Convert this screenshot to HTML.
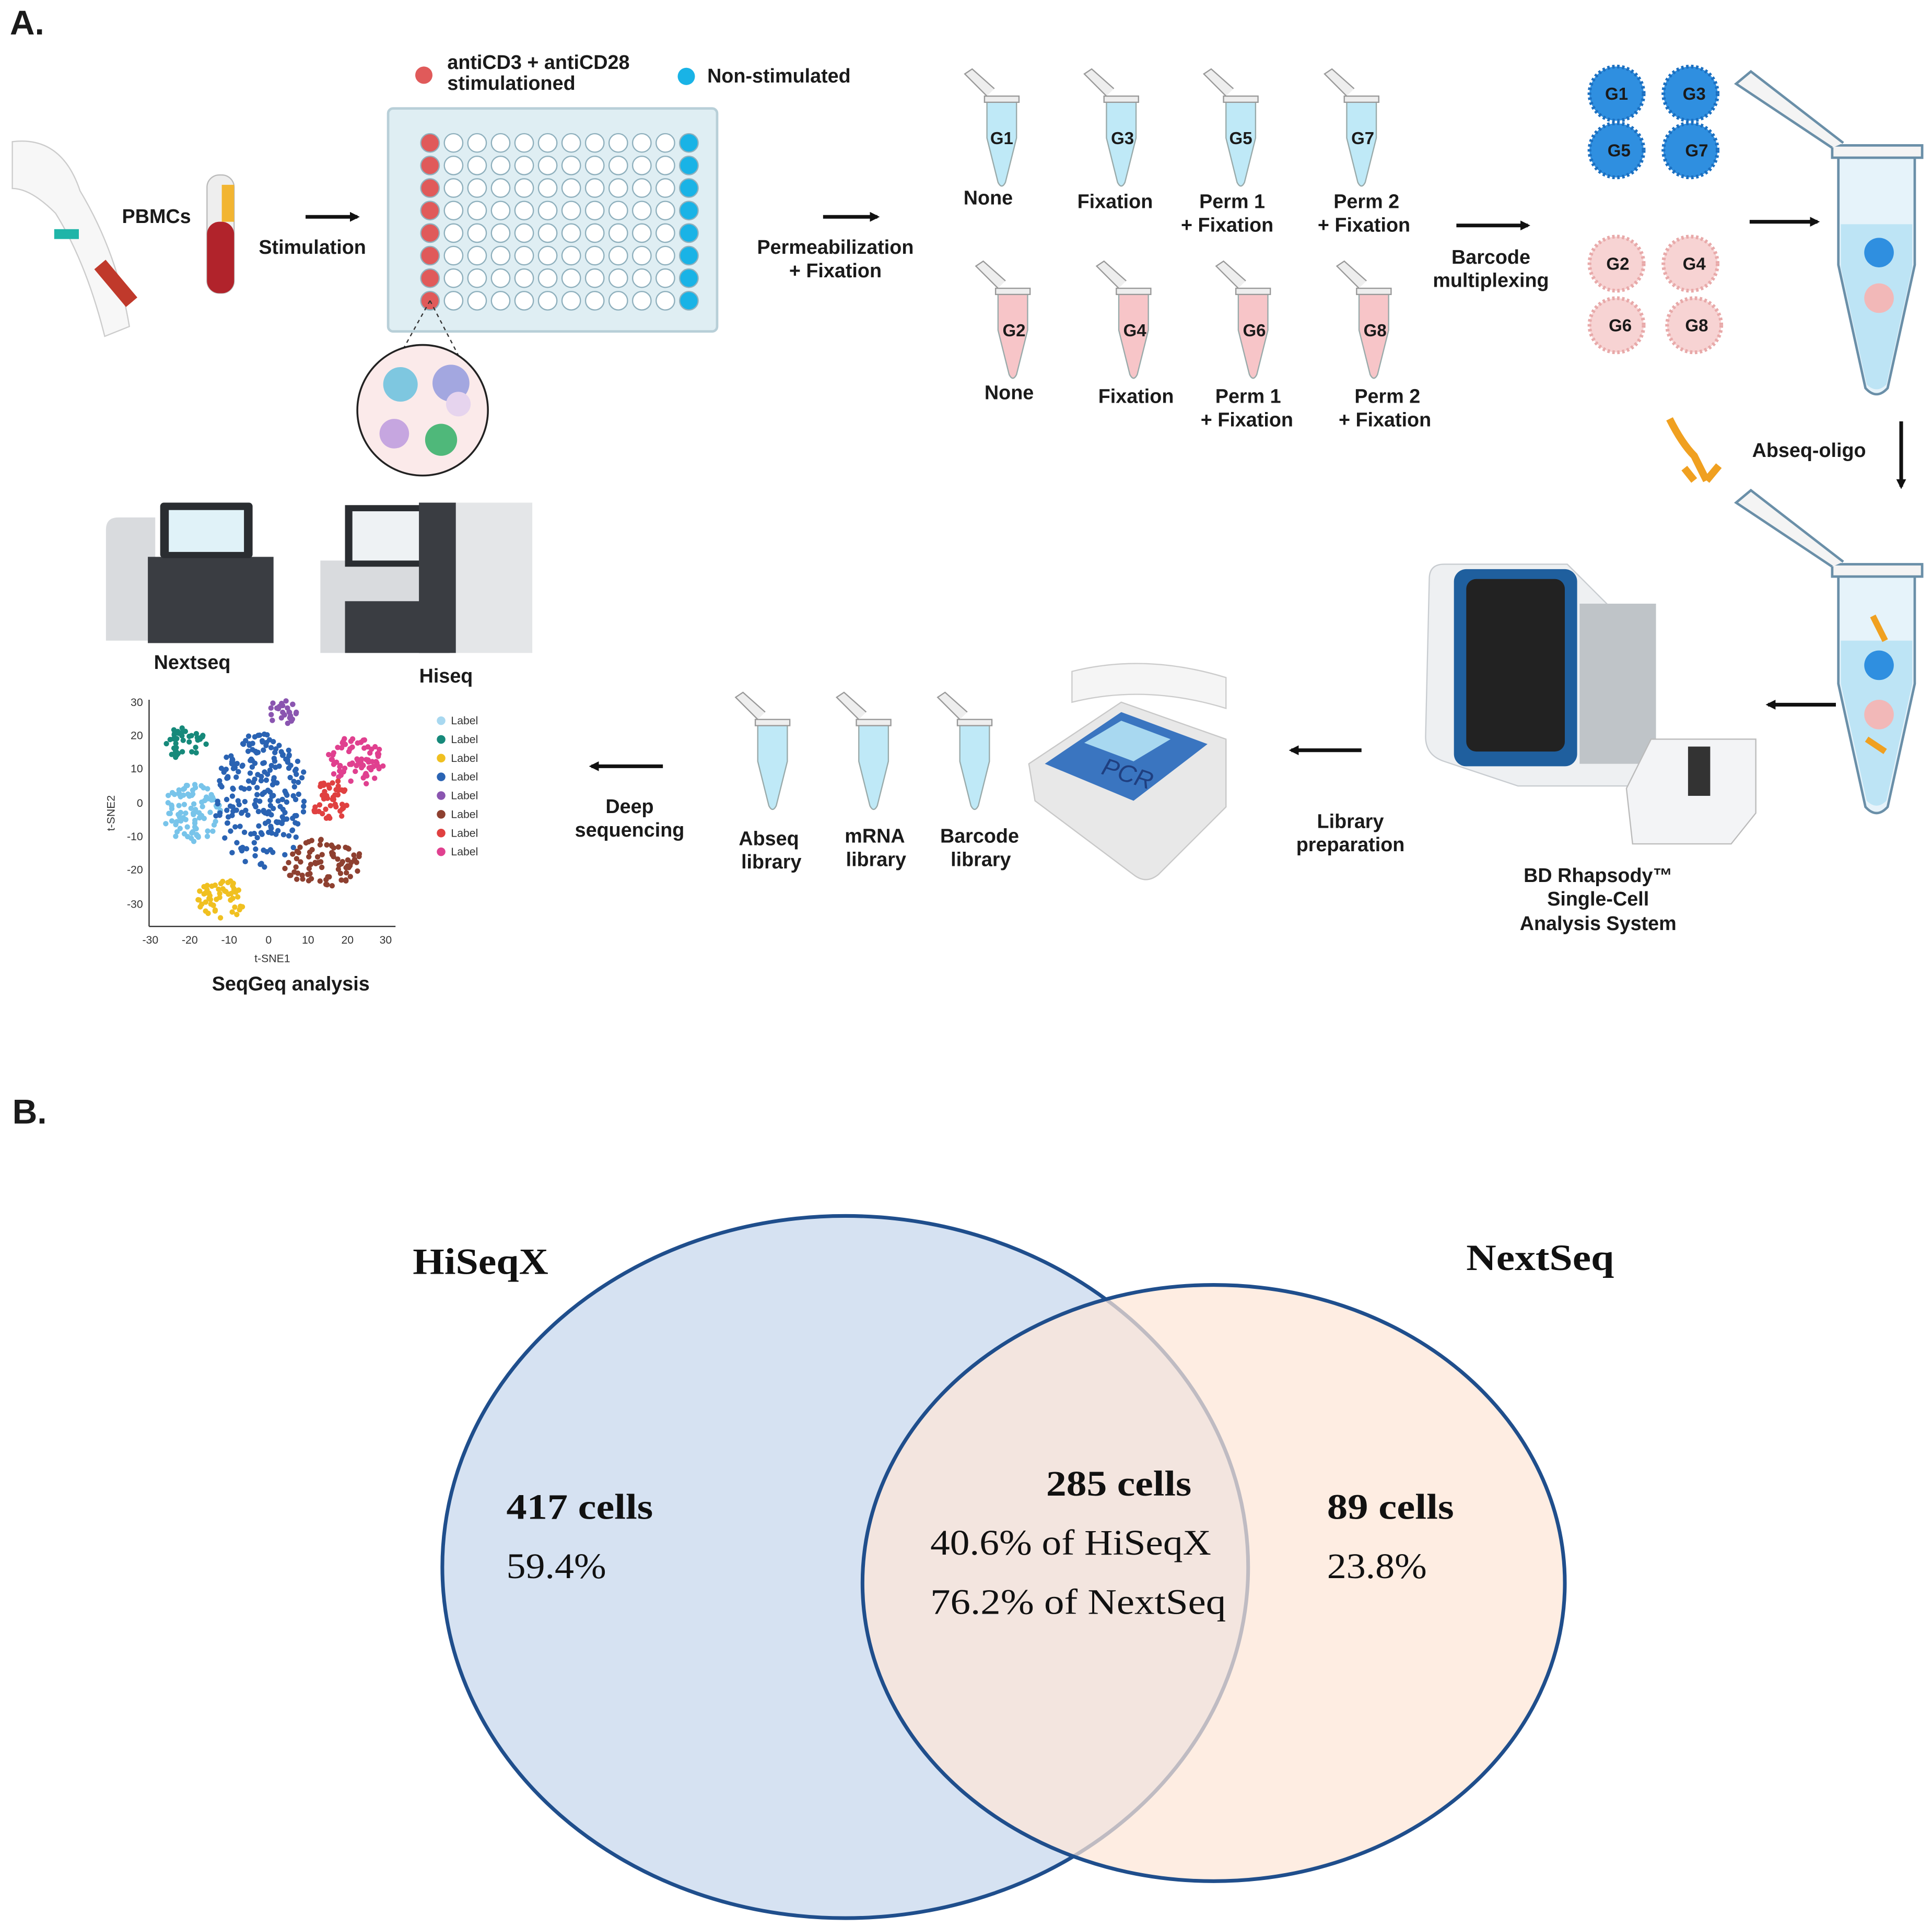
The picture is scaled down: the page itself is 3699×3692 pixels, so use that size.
<!DOCTYPE html>
<html><head><meta charset="utf-8">
<style>
html,body{margin:0;padding:0;background:#fff;}
svg{display:block;}
.s{font-family:"Liberation Sans",Arial,sans-serif;font-weight:bold;fill:#1a1a1a;}
.r{font-family:"Liberation Serif","Times New Roman",serif;fill:#111;}
</style></head><body>
<svg id="sv" width="3699" height="3692" viewBox="0 0 1568 1565" xmlns="http://www.w3.org/2000/svg">
<defs>
<marker id="ah" markerWidth="8" markerHeight="8" refX="6" refY="4" orient="auto" markerUnits="userSpaceOnUse">
<path d="M0,0 L8,4 L0,8 z" fill="#111"/></marker>
<g id="tb"><path d="M-12,0 h24 v30 l-9,36 q-3,6 -6,0 l-9,-36 z" stroke="#9aa" stroke-width="1" /><rect x="-14" y="-4" width="28" height="5" fill="#eee" stroke="#999"/><path d="M-12,-4 l-18,-18 l6,-4 l18,16" fill="#eee" stroke="#999"/></g>
</defs>
<rect width="1568" height="1565" fill="#fff"/>
<text x="8" y="28" class="s" font-size="28">A.</text>
<text x="10" y="912" class="s" font-size="28">B.</text>

<path d="M10,115 q40,-5 55,40 q30,50 40,110 l-20,8 q-15,-60 -40,-100 q-20,-20 -35,-20 z" fill="#f7f7f7" stroke="#ccc"/>
<rect x="88" y="210" width="12" height="40" fill="#c0392b" transform="rotate(-40 94 230)"/>
<rect x="44" y="186" width="20" height="8" fill="#1fb5a8"/>
<rect x="168" y="142" width="22" height="96" rx="10" fill="#eee" stroke="#bbb"/>
<rect x="168" y="180" width="22" height="58" rx="10" fill="#b1232b"/>
<rect x="180" y="150" width="10" height="30" fill="#f2b531"/>
<text x="99" y="181" class="s" font-size="16">PBMCs</text>
<text x="210" y="206" class="s" font-size="16">Stimulation</text>
<line x1="248" y1="176" x2="290" y2="176" stroke="#111" stroke-width="3" marker-end="url(#ah)"/>

<circle cx="344" cy="61" r="7" fill="#e05a5a"/>
<text x="363" y="56" class="s" font-size="16">antiCD3 + antiCD28</text>
<text x="363" y="73" class="s" font-size="16">stimulationed</text>
<circle cx="557" cy="62" r="7" fill="#19b3e6"/>
<text x="574" y="67" class="s" font-size="16">Non-stimulated</text>
<rect x="315" y="88" width="267" height="181" rx="4" fill="#dfeef3" stroke="#b8cfd8" stroke-width="2"/>
<g id="wells"></g>
<line x1="349" y1="244" x2="318" y2="300" stroke="#333" stroke-dasharray="3,3"/>
<line x1="349" y1="244" x2="378" y2="300" stroke="#333" stroke-dasharray="3,3"/>
<circle cx="343" cy="333" r="53" fill="#fbeaea" stroke="#222" stroke-width="1.5"/>
<circle cx="325" cy="312" r="14" fill="#7ec7e0"/><circle cx="366" cy="311" r="15" fill="#a3a7e0"/>
<circle cx="320" cy="352" r="12" fill="#c6a6e0"/><circle cx="358" cy="357" r="13" fill="#4fb87a"/><circle cx="372" cy="328" r="10" fill="#e6d4ee"/>

<text x="678" y="206" class="s" font-size="16" text-anchor="middle">Permeabilization</text>
<text x="678" y="225" class="s" font-size="16" text-anchor="middle">+ Fixation</text>
<line x1="668" y1="176" x2="712" y2="176" stroke="#111" stroke-width="3" marker-end="url(#ah)"/>

<g fill="#bfe9f7"><use href="#tb" x="813" y="82"/><use href="#tb" x="910" y="82"/><use href="#tb" x="1007" y="82"/><use href="#tb" x="1105" y="82"/></g>
<g fill="#f7c5c8"><use href="#tb" x="822" y="238"/><use href="#tb" x="920" y="238"/><use href="#tb" x="1017" y="238"/><use href="#tb" x="1115" y="238"/></g>
<g class="s" font-size="14" text-anchor="middle"><text x="813" y="117">G1</text><text x="911" y="117">G3</text><text x="1007" y="117">G5</text><text x="1106" y="117">G7</text>
<text x="823" y="273">G2</text><text x="921" y="273">G4</text><text x="1018" y="273">G6</text><text x="1116" y="273">G8</text></g>
<g class="s" font-size="16" text-anchor="middle">
<text x="802" y="166">None</text><text x="905" y="169">Fixation</text><text x="1000" y="169">Perm 1</text><text x="996" y="188">+ Fixation</text>
<text x="1109" y="169">Perm 2</text><text x="1107" y="188">+ Fixation</text>
<text x="819" y="324">None</text><text x="922" y="327">Fixation</text><text x="1013" y="327">Perm 1</text><text x="1012" y="346">+ Fixation</text>
<text x="1126" y="327">Perm 2</text><text x="1124" y="346">+ Fixation</text>
<text x="1210" y="214">Barcode</text><text x="1210" y="233">multiplexing</text>
</g>
<line x1="1182" y1="183" x2="1240" y2="183" stroke="#111" stroke-width="3" marker-end="url(#ah)"/>

<g fill="#2f8fe0" stroke="#1b6fc0" stroke-dasharray="2,2" stroke-width="3"><circle cx="1312" cy="76" r="22"/><circle cx="1372" cy="76" r="22"/><circle cx="1312" cy="122" r="22"/><circle cx="1372" cy="122" r="22"/></g>
<g fill="#f7d3d3" stroke="#e8a9a9" stroke-dasharray="2,2" stroke-width="3"><circle cx="1312" cy="214" r="22"/><circle cx="1372" cy="214" r="22"/><circle cx="1312" cy="264" r="22"/><circle cx="1375" cy="264" r="22"/></g>
<g class="s" font-size="14" text-anchor="middle"><text x="1312" y="81">G1</text><text x="1375" y="81">G3</text><text x="1314" y="127">G5</text><text x="1377" y="127">G7</text>
<text x="1313" y="219">G2</text><text x="1375" y="219">G4</text><text x="1315" y="269">G6</text><text x="1377" y="269">G8</text></g>
<line x1="1420" y1="180" x2="1475" y2="180" stroke="#111" stroke-width="3" marker-end="url(#ah)"/>

<g stroke="#6a8fa8" stroke-width="2">
<path d="M1492,125 h62 v90 l-22,100 q-9,10 -18,0 l-22,-100 z" fill="#e6f3fa"/>
<path d="M1494,182 h58 v35 l-21,95 q-8,8 -16,0 l-21,-95 z" fill="#bde4f5" stroke="none"/>
<rect x="1487" y="118" width="73" height="10" fill="#f4f4f4"/>
<path d="M1487,120 l-78,-52 l12,-10 l75,58" fill="#f4f4f4"/>
<path d="M1492,465 h62 v90 l-22,100 q-9,10 -18,0 l-22,-100 z" fill="#e6f3fa"/>
<path d="M1494,520 h58 v35 l-21,95 q-8,8 -16,0 l-21,-95 z" fill="#bde4f5" stroke="none"/>
<rect x="1487" y="458" width="73" height="10" fill="#f4f4f4"/>
<path d="M1487,460 l-78,-52 l12,-10 l75,58" fill="#f4f4f4"/>
</g>
<circle cx="1525" cy="205" r="12" fill="#2f8fe0"/><circle cx="1525" cy="242" r="12" fill="#f2b8b8"/>
<circle cx="1525" cy="540" r="12" fill="#2f8fe0"/><circle cx="1525" cy="580" r="12" fill="#f2b8b8"/>
<path d="M1520,500 l10,20 M1515,600 l15,10" stroke="#f0a020" stroke-width="5"/>
<line x1="1543" y1="342" x2="1543" y2="395" stroke="#111" stroke-width="3" marker-end="url(#ah)"/>
<path d="M1355,340 q10,20 20,30 l10,20 M1375,390 l-8,-10 M1385,390 l10,-12" stroke="#f0a020" stroke-width="6" fill="none"/>
<text x="1422" y="371" class="s" font-size="16">Abseq-oligo</text>
<line x1="1490" y1="572" x2="1435" y2="572" stroke="#111" stroke-width="3" marker-end="url(#ah)"/>

<path d="M1160,470 q0,-12 12,-12 h100 l60,60 v120 h-100 l-60,-20 q-15,-5 -15,-20 z" fill="#eef0f2" stroke="#c8ccd0"/>
<rect x="1180" y="462" width="100" height="160" rx="10" fill="#1f5f9e"/>
<rect x="1190" y="470" width="80" height="140" rx="8" fill="#222"/>
<rect x="1282" y="490" width="62" height="130" fill="#bfc4c8"/>
<path d="M1320,640 l20,-40 h85 v60 l-20,25 h-80 z" fill="#f3f4f6" stroke="#bbb"/>
<rect x="1370" y="606" width="18" height="40" fill="#333"/>
<g class="s" font-size="16" text-anchor="middle"><text x="1297" y="716">BD Rhapsody™</text><text x="1297" y="735">Single-Cell</text><text x="1297" y="755">Analysis System</text>
<text x="1096" y="672">Library</text><text x="1096" y="691">preparation</text></g>
<line x1="1105" y1="609" x2="1048" y2="609" stroke="#111" stroke-width="3" marker-end="url(#ah)"/>

<path d="M835,620 l75,-50 l85,30 v55 l-55,55 q-10,8 -20,0 l-80,-60 z" fill="#e8e8e8" stroke="#c8c8c8"/>
<path d="M870,545 q60,-15 125,5 v25 q-65,-20 -125,-5 z" fill="#f5f5f5" stroke="#ccc"/>
<path d="M848,620 l62,-42 l70,26 l-60,46 z" fill="#3a75c0"/>
<path d="M880,603 l30,-18 l40,15 l-30,18 z" fill="#a8d8f0"/>
<text x="893" y="628" font-family="Liberation Sans,sans-serif" font-style="italic" font-size="20" fill="#1f3f80" transform="rotate(18 893 628)">PCR</text>

<g fill="#bfe9f7"><use href="#tb" x="627" y="588"/><use href="#tb" x="709" y="588"/><use href="#tb" x="791" y="588"/></g>
<g class="s" font-size="16" text-anchor="middle"><text x="624" y="686">Abseq</text><text x="626" y="705">library</text>
<text x="710" y="684">mRNA</text><text x="711" y="703">library</text><text x="795" y="684">Barcode</text><text x="796" y="703">library</text>
<text x="511" y="660">Deep</text><text x="511" y="679">sequencing</text></g>
<line x1="538" y1="622" x2="480" y2="622" stroke="#111" stroke-width="3" marker-end="url(#ah)"/>

<path d="M86,430 q0,-10 10,-10 h30 v100 h-40 z" fill="#d9dbde"/>
<rect x="120" y="452" width="102" height="70" fill="#3a3d42"/>
<rect x="130" y="408" width="75" height="45" rx="3" fill="#2a2d31"/><rect x="137" y="414" width="61" height="34" fill="#e0f2f8"/>
<rect x="260" y="455" width="110" height="75" fill="#d9dbde"/>
<rect x="280" y="410" width="70" height="50" fill="#2a2d31"/><rect x="286" y="415" width="58" height="40" fill="#eef2f4"/>
<rect x="340" y="408" width="30" height="122" fill="#3a3d42"/><rect x="370" y="408" width="62" height="122" fill="#e4e6e8"/>
<rect x="280" y="488" width="85" height="42" fill="#3a3d42"/>
<g class="s" font-size="16" text-anchor="middle"><text x="156" y="543">Nextseq</text><text x="362" y="554">Hiseq</text><text x="236" y="804">SeqGeq analysis</text></g>

<g font-family="Liberation Sans,sans-serif" font-size="9" fill="#333">
<line x1="121" y1="568" x2="121" y2="752" stroke="#333"/><line x1="121" y1="752" x2="321" y2="752" stroke="#333"/>
<text x="116" y="573" text-anchor="end">30</text><text x="116" y="600" text-anchor="end">20</text><text x="116" y="627" text-anchor="end">10</text><text x="116" y="655" text-anchor="end">0</text>
<text x="116" y="682" text-anchor="end">-10</text><text x="116" y="709" text-anchor="end">-20</text><text x="116" y="737" text-anchor="end">-30</text>
<text x="122" y="766" text-anchor="middle">-30</text><text x="154" y="766" text-anchor="middle">-20</text><text x="186" y="766" text-anchor="middle">-10</text><text x="218" y="766" text-anchor="middle">0</text>
<text x="250" y="766" text-anchor="middle">10</text><text x="282" y="766" text-anchor="middle">20</text><text x="313" y="766" text-anchor="middle">30</text>
<text x="221" y="781" text-anchor="middle">t-SNE1</text>
<text x="93" y="660" text-anchor="middle" transform="rotate(-90 93 660)">t-SNE2</text>
</g>
<g id="dots"></g>
<g id="leg" font-family="Liberation Sans,sans-serif" font-size="9" fill="#333"></g>

<ellipse cx="686" cy="1272" rx="327" ry="285" fill="#d6e2f2" stroke="#1f4e8c" stroke-width="3"/>
<ellipse cx="985" cy="1285" rx="285" ry="242" fill="#fde6d7" fill-opacity="0.72" stroke="none"/>
<ellipse cx="985" cy="1285" rx="285" ry="242" fill="none" stroke="#1f4e8c" stroke-width="3"/>
<text x="335" y="1034" class="r" font-size="30" font-weight="bold" textLength="110" lengthAdjust="spacingAndGlyphs">HiSeqX</text>
<text x="1190" y="1031" class="r" font-size="30" font-weight="bold" textLength="120" lengthAdjust="spacingAndGlyphs">NextSeq</text>
<text x="411" y="1233" class="r" font-size="29" font-weight="bold" textLength="119" lengthAdjust="spacingAndGlyphs">417 cells</text>
<text x="411" y="1281" class="r" font-size="29" textLength="81" lengthAdjust="spacingAndGlyphs">59.4%</text>
<text x="849" y="1214" class="r" font-size="29" font-weight="bold" textLength="118" lengthAdjust="spacingAndGlyphs">285 cells</text>
<text x="755" y="1262" class="r" font-size="29" textLength="228" lengthAdjust="spacingAndGlyphs">40.6% of HiSeqX</text>
<text x="755" y="1310" class="r" font-size="29" textLength="240" lengthAdjust="spacingAndGlyphs">76.2% of NextSeq</text>
<text x="1077" y="1233" class="r" font-size="29" font-weight="bold" textLength="103" lengthAdjust="spacingAndGlyphs">89 cells</text>
<text x="1077" y="1281" class="r" font-size="29" textLength="81" lengthAdjust="spacingAndGlyphs">23.8%</text>
</svg>
<script>
var NS="http://www.w3.org/2000/svg";
function el(p,t,a){var e=document.createElementNS(NS,t);for(var k in a)e.setAttribute(k,a[k]);p.appendChild(e);return e;}
var w=document.getElementById("wells");
for(var r=0;r<8;r++)for(var c=0;c<12;c++){var f=c==0?"#e05a5a":(c==11?"#19b3e6":"#fff");
el(w,"circle",{cx:349+c*19.1,cy:116+r*18.3,r:7.5,fill:f,stroke:"#8fb0bd","stroke-width":1});}
var seed=7;function rnd(){seed=(seed*16807)%2147483647;return seed/2147483647;}
var cl=[[150,604,18,14,"#16897a",40],[229,578,12,10,"#8a55b0",25],[155,660,24,24,"#78c4ea",90],[212,650,38,55,"#2a63b3",220],[288,618,24,20,"#e0408f",80],[268,650,15,18,"#e04040",45],[262,700,32,20,"#8e4030",80],[180,730,20,16,"#f0c020",55]];
var d=document.getElementById("dots");
cl.forEach(function(k){for(var i=0;i<k[5];i++){var a=rnd()*6.283,rr=Math.sqrt(rnd());el(d,"circle",{cx:k[0]+Math.cos(a)*rr*k[2],cy:k[1]+Math.sin(a)*rr*k[3],r:2.2,fill:k[4]});}});
var lc=["#a8d8f0","#16897a","#f0c020","#2a63b3","#8a55b0","#8e4030","#e04040","#e0408f"],lg=document.getElementById("leg");
lc.forEach(function(c,i){el(lg,"circle",{cx:358,cy:585+i*15.2,r:3.5,fill:c});var t=el(lg,"text",{x:366,y:588+i*15.2});t.textContent="Label";});
</script>
</body></html>
